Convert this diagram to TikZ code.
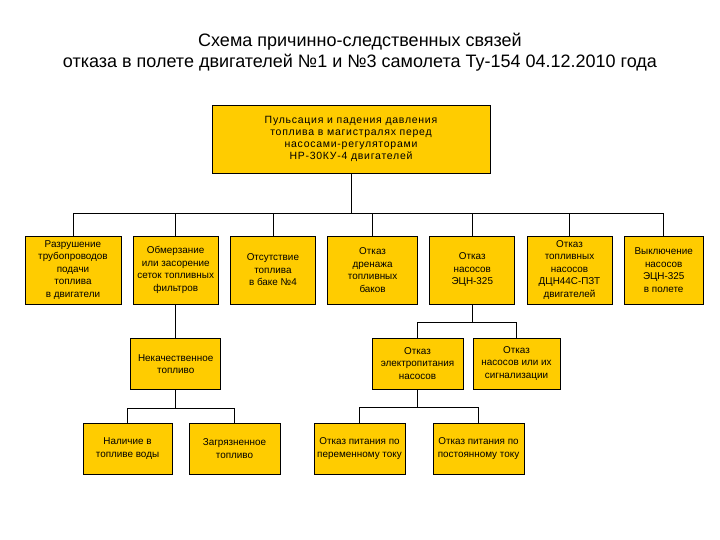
\documentclass[tikz,border=0pt]{standalone}
\usepackage{fontspec}
\setmainfont{Liberation Sans}
\newfontfamily\spacedfont[LetterSpace=7]{Liberation Sans}
\usepackage{tikz}
\usetikzlibrary{positioning}

\definecolor{boxgold}{RGB}{255,204,0}

\begin{document}
\begin{tikzpicture}[
    x=1pt, y=-1pt,
    node distance=11.5pt and 11.5pt,
    box/.style={draw, line width=0.7pt, fill=boxgold, align=center, inner sep=1pt,
                minimum height=68pt, font=\fontsize{9.9}{12.5}\selectfont},
    lowbox/.style={box, minimum height=51pt},
    link/.style={line width=0.8pt},
    title/.style={font=\fontsize{18}{21}\selectfont}
]
\useasboundingbox (0,0) rectangle (720,540);

% title
\node[title] (t1) at (360,42) {Схема причинно-следственных связей};
\node[title] (t2) at (360,63) {отказа в полете двигателей №1 и №3 самолета Ту-154 04.12.2010 года};

% top event
\node[box, minimum width=278pt, font=\spacedfont\fontsize{10.5}{11.9}\selectfont] (top) at (351,139)
  {Пульсация и падения давления\\топлива в магистралях перед\\насосами-регуляторами\\НР-30КУ-4 двигателей};

% first level
\node[box, minimum width=96pt] (rupt) at (73,270) {Разрушение\\трубопроводов\\подачи\\топлива\\в двигатели};
\node[box, minimum width=85pt, right=of rupt] (frz) {Обмерзание\\или засорение\\сеток топливных\\фильтров};
\node[box, minimum width=85pt, right=of frz] (empty) {Отсутствие\\топлива\\в баке №4};
\node[box, minimum width=90pt, right=of empty] (drain) {Отказ\\дренажа\\топливных\\баков};
\node[box, minimum width=85pt, right=of drain] (ecn) {Отказ\\насосов\\ЭЦН-325};
\node[box, minimum width=85pt, right=of ecn] (dcn) {Отказ\\топливных\\насосов\\ДЦН44С-ПЗТ\\двигателей};
\node[box, minimum width=79pt, right=of dcn] (off) {Выключение\\насосов\\ЭЦН-325\\в полете};

% second level
\node[lowbox, minimum width=90pt, below=34pt of frz] (bad) {Некачественное\\топливо};
\node[lowbox, minimum width=91pt] (power) at (417.5,363.5) {Отказ\\электропитания\\насосов};
\node[lowbox, minimum width=87pt] (sig) at (516.5,363.5) {Отказ\\насосов или их\\сигнализации};

% third level
\node[lowbox, minimum width=89pt] (water) at (127.5,448.5) {Наличие в\\топливе воды};
\node[lowbox, minimum width=91pt] (dirt) at (234.5,448.5) {Загрязненное\\топливо};
\node[lowbox, minimum width=91pt] (ac) at (359.5,448.5) {Отказ питания по\\переменному току};
\node[lowbox, minimum width=91pt] (dc) at (478.5,448.5) {Отказ питания по\\постоянному току};

% connectors
\foreach \n in {rupt,frz,empty,drain,ecn,dcn,off}
  \draw[link] (top.south) -- ++(0,40) -| (\n.north);
\draw[link] (frz.south) -- (bad.north);
\foreach \n in {power,sig}
  \draw[link] (ecn.south) -- ++(0,18) -| (\n.north);
\foreach \n in {water,dirt}
  \draw[link] (bad.south) -- ++(0,18) -| (\n.north);
\foreach \n in {ac,dc}
  \draw[link] (power.south) -- ++(0,18) -| (\n.north);
\end{tikzpicture}
\end{document}
